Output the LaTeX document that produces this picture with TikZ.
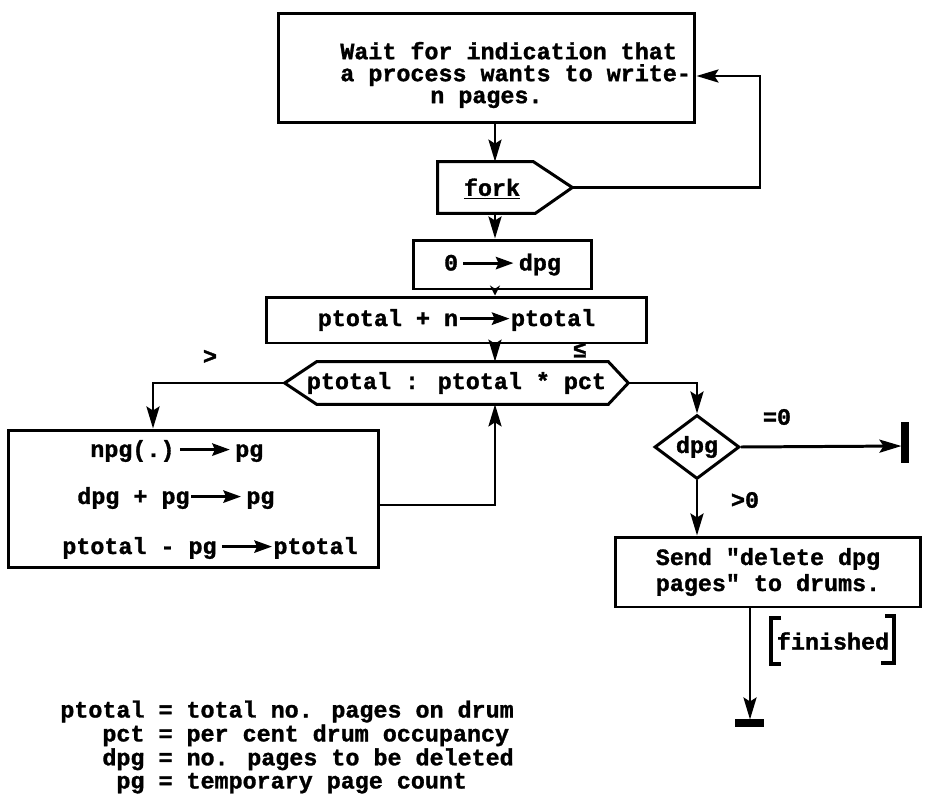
\documentclass[tikz,border=0pt]{standalone}
\usepackage{fontspec}
\newfontfamily\tw{Liberation Mono}[BoldFeatures={FakeBold=1.3}]
\usetikzlibrary{arrows.meta,calc,shapes.geometric}
\newcommand{\toarr}{\tikz[baseline=-0.6ex]\draw[line width=1.7pt,-{Stealth[length=10pt,width=7pt,inset=1.5pt]}] (0pt,0pt) -- (1cm,0pt);}
\tikzset{
  every node/.style={font=\tw\bfseries\fontsize{13.3}{13.3}\selectfont},
  box/.style={draw, line width=1.7pt, rectangle, inner sep=0pt},
  ghost/.style={rectangle, inner sep=0pt},
  shapeline/.style={line width=1.7pt, line join=miter},
  conn/.style={line width=1.7pt, -{Stealth[length=0.44cm,width=0.26cm,inset=0.08cm]}},
  shortconn/.style={line width=1.7pt, -{Stealth[length=0.2cm,width=0.2cm]}},
  termbar/.style={line width=4pt},
  txt/.style={inner sep=0pt}
}
\begin{document}
\begin{tikzpicture}[x=0.02cm,y=-0.02cm]
\useasboundingbox (0,0) rectangle (927,801);

% top box
\node[box, minimum width=8.34cm, minimum height=2.2cm] (topbox) at (486.5,68) {};
\node[txt, anchor=west, align=left, font=\tw\bfseries\fontsize{13.3}{12.5}\selectfont] (toptext) at (340,75)
  {Wait for indication that\\a process wants to write-\\\hspace*{1.8cm}n pages.};

% fork
\node[ghost, minimum width=2.68cm, minimum height=1.02cm] (fork) at (505,187.5) {};
\draw[shapeline] (fork.north west) -- ($(fork.north east)+(-39,0)$) -- (fork.east)
  -- ($(fork.south east)+(-37,0)$) -- (fork.south west) -- cycle;
\node[txt] (forklbl) at (492,189) {\underline{fork}};

% 0 -> dpg
\node[box, minimum width=3.58cm, minimum height=0.98cm] (dpgbox) at (502.5,264.5) {0\,\toarr\,dpg};

% ptotal + n -> ptotal
\node[box, minimum width=7.62cm, minimum height=0.92cm] (ptbox) at (456.5,320) {ptotal + n\toarr ptotal};

% hexagon decision
\node[ghost, minimum width=6.86cm, minimum height=0.84cm] (hex) at (456.5,383) {ptotal : ptotal * pct};
\draw[shapeline] (hex.west) -- ($(hex.north west)+(32,0)$) -- ($(hex.north east)+(-20,0)$)
  -- (hex.east) -- ($(hex.south east)+(-20,0)$) -- ($(hex.south west)+(32,0)$) -- cycle;

% left box
\node[box, minimum width=7.42cm, minimum height=2.76cm] (leftbox) at (193.5,499) {};
\node[txt, anchor=west] (l1) at (90,451) {npg(.)\,\toarr\,pg};
\node[txt, anchor=west] (l2) at (77,498) {dpg + pg\toarr\,pg};
\node[txt, anchor=west] (l3) at (62,548) {ptotal - pg\,\toarr ptotal};

% diamond
\node[draw, diamond, line width=1.7pt, minimum width=1.7cm, minimum height=1.2cm, inner sep=0pt] (diam) at (697,447) {dpg};

% send box
\node[box, minimum width=6.12cm, minimum height=1.4cm, align=left] (sendbox) at (768,572)
  {Send "delete dpg\\[1.5pt]pages" to drums.};

% terminals
\coordinate (t1) at (905,446);
\draw[termbar] ($(t1)+(0,-24)$) -- ($(t1)+(0,17)$);
\coordinate (t2) at (750,723);
\draw[termbar] ($(t2)+(-15,0)$) -- ($(t2)+(14,0)$);

% helper coordinates
\coordinate (vx) at (495,0);
\coordinate (lp) at (760,76);
\coordinate (lx) at (153,0);
\coordinate (ly) at (0,505);

% connectors
\draw[conn] (topbox.south -| vx) -- (fork.north -| vx);
\draw[conn] (fork.east) -| (lp) -- (topbox.east |- lp);
\draw[conn] (fork.south -| vx) -- (dpgbox.north -| vx);
\draw[shortconn] (dpgbox.south -| vx) -- (ptbox.north -| vx);
\draw[conn] (ptbox.south -| vx) -- (hex.north -| vx);
\draw[conn] (hex.west) -| (leftbox.north -| lx);
\draw[conn] (leftbox.east |- ly) -| (hex.south -| vx);
\draw[conn] (hex.east) -| (diam.north);
\draw[conn, shorten >=0.07cm] (diam.east) -- (t1);
\draw[conn] (diam.south) -- (sendbox.north -| diam.south);
\draw[conn, shorten >=0.07cm] (sendbox.south -| t2) -- (t2);

% labels
\node[txt] (gt) at (210,357) {>};
\node[txt] (le) at (580,350) {≤};
\node[txt] (eq0) at (777,417) {=0};
\node[txt] (gt0) at (745,500) {>0};

% finished bracket
\node[txt] (fin) at (833,641) {finished};
\draw[line width=2.2pt] (781,618) -- (771,618) -- (771,664) -- (781,664);
\draw[line width=2.2pt] (885,616) -- (894,616) -- (894,663) -- (881,663);

% legend
\node[txt, anchor=west, font=\tw\bfseries\fontsize{13.3}{13.2}\selectfont] (legend) at (60,748)
  {\begin{tabular}{@{}r@{ }l@{}}
   ptotal & = total no. pages on drum\\
   pct & = per cent drum occupancy\\
   dpg & = no. pages to be deleted\\
   pg & = temporary page count
   \end{tabular}};
\end{tikzpicture}
\end{document}
